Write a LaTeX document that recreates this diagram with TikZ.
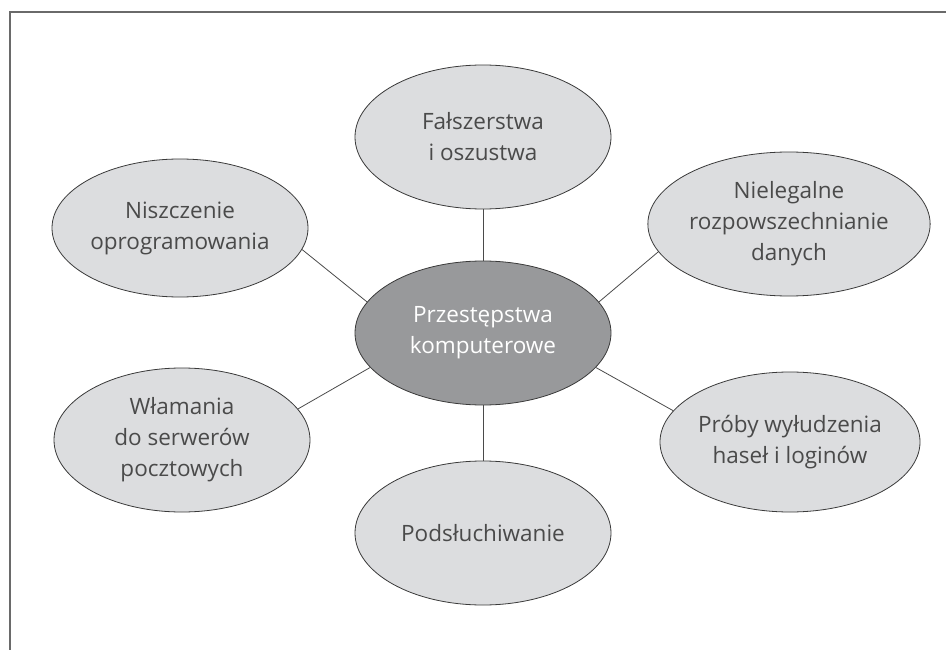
\documentclass[tikz,border=0pt]{standalone}
\usepackage{fontspec}
\setmainfont{Open Sans}
\usetikzlibrary{shapes.geometric}
\definecolor{outerfill}{HTML}{DCDDDF}
\definecolor{centerfill}{HTML}{98999B}
\definecolor{edgecol}{HTML}{3A3A3A}
\definecolor{textcol}{HTML}{4A4A4A}
\definecolor{linecol}{HTML}{4A4A4A}
\definecolor{framecol}{HTML}{6A6A6A}
\tikzset{
  bubble/.style={ellipse, draw=edgecol, line width=0.8pt, fill=outerfill,
    minimum width=256pt, minimum height=144pt, inner sep=0pt, align=center,
    text=textcol, font=\fontsize{22.5}{31}\selectfont},
  hub/.style={bubble, fill=centerfill, text=white},
  link/.style={draw=linecol, line width=0.8pt},
  frameline/.style={draw=framecol, line width=1.6pt}
}
\begin{document}
\begin{tikzpicture}[x=1pt,y=-1pt]
\useasboundingbox (0,0) rectangle (946,650);
\coordinate (fa) at (10,650);
\coordinate (fb) at (10,12);
\coordinate (fc) at (946,12);
\draw[frameline] (fa) -- (fb) -- (fc);

\node[hub] (c) at (483,333) {Przestępstwa\\komputerowe};
\node[bubble] (t) at (483,137) {Fałszerstwa\\i oszustwa};
\node[bubble, minimum height=138pt] (ul) at (180,228) {Niszczenie\\oprogramowania};
\node[bubble] (ur) at (789,224) {Nielegalne\\rozpowszechnianie\\danych};
\node[bubble] (ll) at (182,440) {Włamania\\do serwerów\\pocztowych};
\node[bubble, minimum height=140pt] (lr) at (790,442) {Próby wyłudzenia\\haseł i loginów};
\node[bubble] (b) at (483,533) {Podsłuchiwanie};

\draw[link] (c.north) -- (t.south);
\draw[link] (c.south) -- (b.north);
\draw[link] (c.165) -- (ul.-10);
\draw[link] (c.15) -- (ur.-168);
\draw[link] (c.-163) -- (ll.15);
\draw[link] (c.-17) -- (lr.165);
\end{tikzpicture}
\end{document}
